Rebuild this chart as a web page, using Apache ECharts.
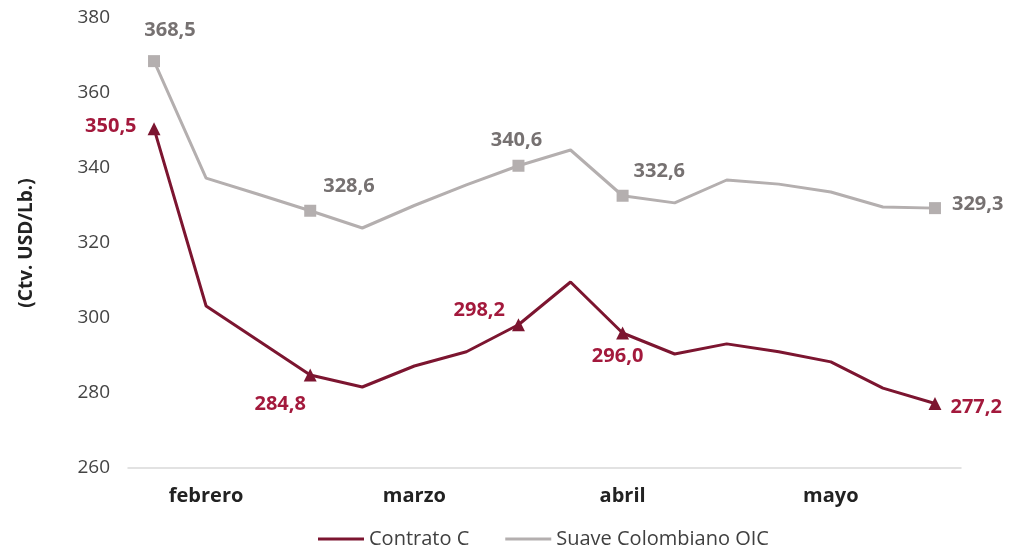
<!DOCTYPE html>
<html>
<head>
<meta charset="utf-8">
<script src="https://cdn.jsdelivr.net/npm/echarts@6/dist/echarts.min.js"></script>
<style>
  html, body { margin: 0; padding: 0; background: #fff; }
  #chart { width: 1018px; height: 552px; }
</style>
</head>
<body>
<div id="chart"></div>
<script>
// semanas (16 puntos), solo se rotulan los meses
var categorias = ['', 'febrero', '', '', '', 'marzo', '', '', '', 'abril', '', '', '', 'mayo', '', ''];
var contratoC = [350.5, 303.2, 294.0, 284.8, 281.6, 287.2, 291.0, 298.2, 309.6, 296.0, 290.4, 293.1, 291.0, 288.3, 281.3, 277.2];
var suaveOIC = [368.5, 337.3, 333.0, 328.6, 324.0, 330.0, 335.5, 340.6, 344.8, 332.6, 330.7, 336.8, 335.7, 333.6, 329.6, 329.3];
var puntosMarcados = [0, 3, 7, 9, 15];

var myChart = echarts.init(document.getElementById('chart'));

function fmt(v) { return v.toFixed(1).replace('.', ','); }

// posicion de cada etiqueta (por indice)
var posRojo = { 0: ['left', [-6, -2]], 3: ['bottom', [-30, 8]], 7: ['left', [-2, -14]], 9: ['bottom', [-5, 2]], 15: ['right', [4, 4]] };
var posGris = { 0: ['top', [16, -10]], 3: ['right', [2, -24]], 7: ['top', [-2, -4]], 9: ['right', [0, -24]], 15: ['right', [6, -4]] };

function armar(valores, pos, color) {
    return valores.map(function (v, i) {
        if (puntosMarcados.indexOf(i) < 0) {
            return { value: v, symbol: 'none', label: { show: false } };
        }
        return {
            value: v,
            label: {
                show: true,
                position: pos[i][0],
                offset: pos[i][1],
                color: color,
                formatter: function (p) { return fmt(p.value); }
            }
        };
    });
}

var option = {
    backgroundColor: '#fff',
    textStyle: { fontFamily: 'Open Sans' },
    grid: { left: 128, right: 57, top: 18, bottom: 84 },
    legend: {
        bottom: -2,
        left: 313,
        itemWidth: 46,
        itemHeight: 3,
        itemGap: 36,
        icon: 'rect',
        textStyle: { fontSize: 20, color: '#404040', fontFamily: 'Open Sans' },
        data: ['Contrato C', 'Suave Colombiano OIC']
    },
    xAxis: {
        type: 'category',
        data: categorias,
        boundaryGap: true,
        axisLine: { lineStyle: { color: '#d9d9d9', width: 1.5 } },
        axisTick: { show: false },
        axisLabel: {
            interval: 0,
            margin: 18,
            fontSize: 20,
            fontWeight: 'bold',
            color: '#222'
        }
    },
    yAxis: {
        type: 'value',
        min: 260,
        max: 380,
        interval: 20,
        name: '(Ctv. USD/Lb.)',
        nameLocation: 'middle',
        nameGap: 92,
        nameRotate: 90,
        nameTextStyle: { fontSize: 19, fontWeight: 'bold', color: '#222' },
        axisLine: { show: false },
        axisTick: { show: false },
        splitLine: { show: false },
        axisLabel: { margin: 18, fontSize: 19, color: '#444' }
    },
    series: [
        {
            name: 'Contrato C',
            type: 'line',
            data: armar(contratoC, posRojo, '#a3193c'),
            symbol: 'triangle',
            symbolSize: 13,
            lineStyle: { color: '#7c1530', width: 3 },
            itemStyle: { color: '#7c1530' },
            label: { fontSize: 20, fontWeight: 'bold' },
            z: 3
        },
        {
            name: 'Suave Colombiano OIC',
            type: 'line',
            data: armar(suaveOIC, posGris, '#767171'),
            symbol: 'rect',
            symbolSize: 12,
            lineStyle: { color: '#b4afaf', width: 3 },
            itemStyle: { color: '#b4afaf' },
            label: { fontSize: 20, fontWeight: 'bold' },
            z: 2
        }
    ]
};

myChart.setOption(option);
</script>
</body>
</html>
